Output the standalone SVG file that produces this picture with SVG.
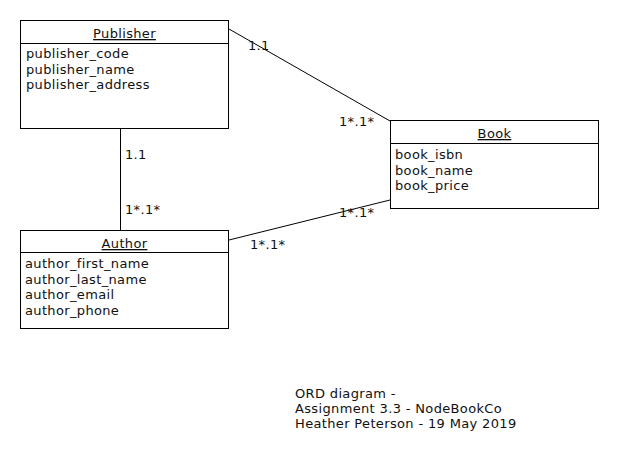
<svg xmlns="http://www.w3.org/2000/svg" width="620" height="460" viewBox="0 0 620 460">
<style>
text{font-family:"DejaVu Sans","Liberation Sans",sans-serif;font-size:13px;letter-spacing:0.35px;fill:#111}
.box{fill:#fff;stroke:#000;stroke-width:1}
.div{stroke:#000;stroke-width:1}
.hdr{text-anchor:middle;text-decoration:underline}
.conn line{stroke:#000;stroke-width:1}
</style>
<rect width="620" height="460" fill="#fff"/>
<g class="conn" id="connectors">
<line x1="229" y1="29" x2="390" y2="121"/>
<line x1="120.5" y1="129" x2="120.5" y2="230"/>
<line x1="229" y1="240" x2="390" y2="200"/>
<text x="248" y="50">1.1</text>
<text x="339" y="126">1*.1*</text>
<text x="125" y="159">1.1</text>
<text x="125" y="214">1*.1*</text>
<text x="339" y="217">1*.1*</text>
<text x="250" y="249">1*.1*</text>
</g>
<g id="publisher">
<rect class="box" x="20.5" y="20.5" width="208" height="108"/>
<line class="div" x1="20.5" y1="43.5" x2="228.5" y2="43.5"/>
<text class="hdr" x="124.5" y="38">Publisher</text>
<text x="26" y="58">publisher_code</text>
<text x="26" y="74">publisher_name</text>
<text x="26" y="89">publisher_address</text>
</g>
<g id="book">
<rect class="box" x="390.5" y="120.5" width="208" height="88"/>
<line class="div" x1="390.5" y1="143.5" x2="598.5" y2="143.5"/>
<text class="hdr" x="494.5" y="138">Book</text>
<text x="395" y="159">book_isbn</text>
<text x="395" y="175">book_name</text>
<text x="395" y="190">book_price</text>
</g>
<g id="author">
<rect class="box" x="20.5" y="230.5" width="208" height="98"/>
<line class="div" x1="20.5" y1="252.5" x2="228.5" y2="252.5"/>
<text class="hdr" x="124.5" y="248">Author</text>
<text x="25" y="268">author_first_name</text>
<text x="25" y="284">author_last_name</text>
<text x="25" y="299">author_email</text>
<text x="25" y="315">author_phone</text>
</g>
<g id="caption">
<text x="295" y="398">ORD diagram -</text>
<text x="295" y="413">Assignment 3.3 - NodeBookCo</text>
<text x="295" y="428">Heather Peterson - 19 May 2019</text>
</g>
</svg>
